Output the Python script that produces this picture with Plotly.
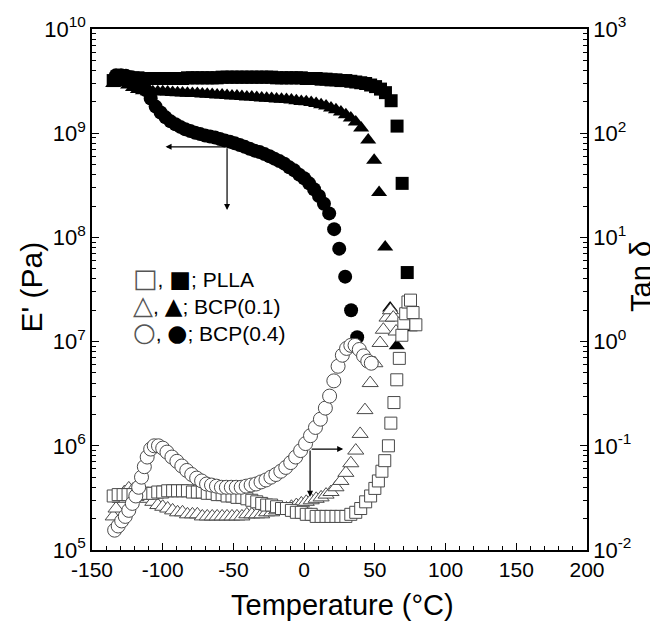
import math
import plotly.graph_objects as go

# ---------------- data ----------------
# Storage modulus E' (values in GPa, converted to Pa below)
pll_E_T = [-135, -131.5, -128, -124.5, -121, -117.5, -114, -110.5, -107, -103.5,
           -100, -96.5, -93, -89.5, -86, -82.5, -79, -75.5, -72, -68.5,
           -65, -61.5, -58, -54.5, -51, -47.5, -44, -40.5, -37, -33.5,
           -30, -26.5, -23, -19.5, -16, -12.5, -9, -5.5, -2, 1.5,
           5, 8.5, 12, 15.5, 19, 22.5, 26, 29.5, 33, 36.5,
           40, 43.5, 47, 50.5, 54, 57.5,
           61.5, 65.7, 69.3, 72.9, 75.5]
pll_E_GPa = [3.2, 3.4, 3.45, 3.45, 3.4, 3.4, 3.35, 3.35, 3.35, 3.35,
             3.35, 3.35, 3.35, 3.35, 3.35, 3.4, 3.4, 3.4, 3.4, 3.4,
             3.4, 3.4, 3.45, 3.45, 3.45, 3.45, 3.45, 3.45, 3.45, 3.45,
             3.45, 3.45, 3.45, 3.4, 3.4, 3.4, 3.4, 3.4, 3.4, 3.35,
             3.35, 3.35, 3.3, 3.3, 3.25, 3.25, 3.2, 3.2, 3.15, 3.1,
             3.05, 3.0, 2.9, 2.8, 2.65, 2.45,
             2.05, 1.17, 0.33, 0.046, 0.0145]

b01_E_T = [-135, -131.5, -128, -124.5, -121, -117.5, -114, -110.5, -107, -103.5,
           -100, -96.5, -93, -89.5, -86, -82.5, -79, -75.5, -72, -68.5,
           -65, -61.5, -58, -54.5, -51, -47.5, -44, -40.5, -37, -33.5,
           -30, -26.5, -23, -19.5, -16, -12.5, -9, -5.5, -2, 1.5,
           5, 8.5, 12, 15.5, 19, 22.5, 26, 29.5, 33, 36.5,
           40.3, 45.3, 49.5, 53, 57.3, 60.8, 65.5]
b01_E_GPa = [3.0, 3.1, 3.05, 2.9, 2.75, 2.62, 2.55, 2.5, 2.5, 2.5,
             2.5, 2.48, 2.46, 2.45, 2.43, 2.42, 2.4, 2.4, 2.38, 2.36,
             2.35, 2.33, 2.32, 2.3, 2.28, 2.27, 2.25, 2.23, 2.22, 2.2,
             2.18, 2.16, 2.15, 2.13, 2.12, 2.1, 2.08, 2.05, 2.02, 2.0,
             1.97, 1.93, 1.88, 1.82, 1.75, 1.68, 1.6, 1.5, 1.4, 1.28,
             1.12, 0.86, 0.55, 0.27, 0.081, 0.021, 0.0091]

b04_E_T = [-133, -129.5, -126, -122.5, -119, -115.5, -112, -108.5, -105, -101.5,
           -98, -94.5, -91, -87.5, -84, -80.5, -77, -73.5, -70, -66.5,
           -63, -59.5, -56, -52.5, -49, -45.5, -42, -38.5, -35, -31.5,
           -28, -24.5, -21, -17.5, -14, -10.5, -7, -3.5, 0, 3.5,
           7, 10.5, 14, 17.7, 21.2, 24.8, 29, 33.2, 37.5]
b04_E_GPa = [3.6, 3.6, 3.55, 3.45, 3.3, 3.0, 2.6, 2.15, 1.8, 1.58,
             1.42, 1.3, 1.22, 1.15, 1.09, 1.05, 1.01, 0.98, 0.95, 0.93,
             0.91, 0.88, 0.85, 0.83, 0.8, 0.77, 0.74, 0.71, 0.68, 0.66,
             0.63, 0.6, 0.57, 0.54, 0.51, 0.47, 0.44, 0.4, 0.37, 0.33,
             0.29, 0.25, 0.21, 0.17, 0.12, 0.078, 0.042, 0.020, 0.011]

# Loss tangent tan(delta)
pll_tan_T = [-135, -131.5, -128, -124.5, -121, -117.5, -114, -110.5, -107, -103.5,
             -100, -96.5, -93, -89.5, -86, -82.5, -79, -75.5, -72, -68.5,
             -65, -61.5, -58, -54.5, -51, -47.5, -44, -40.5, -37, -33.5,
             -30, -26.5, -23, -19.5, -16, -12.5, -9, -5.5, -2, 1.5,
             5, 8.5, 12, 15.5, 19, 22.5, 26, 29.5, 33, 36.5,
             40, 43.5,
             47, 50, 52.5, 55, 57, 59.6, 61.3, 63.5, 65.5, 67.3,
             69.1, 70.5, 71.8, 73.4, 75.2, 77, 79]
pll_tan = [0.033, 0.034, 0.034, 0.034, 0.034, 0.034, 0.035, 0.035, 0.035, 0.036,
           0.036, 0.037, 0.037, 0.037, 0.037, 0.037, 0.036, 0.036, 0.036, 0.035,
           0.035, 0.034, 0.034, 0.033, 0.033, 0.032, 0.032, 0.031, 0.030, 0.029,
           0.028, 0.027, 0.027, 0.026, 0.025, 0.025, 0.024, 0.023, 0.023, 0.022,
           0.022, 0.021, 0.021, 0.021, 0.021, 0.021, 0.021, 0.021, 0.022, 0.023,
           0.025, 0.029,
           0.033, 0.039, 0.046, 0.057, 0.072, 0.10, 0.165, 0.26, 0.43, 0.69,
           1.15, 1.5, 1.85, 2.4, 2.5, 1.9, 1.45]

b01_tan_T = [-135, -133, -130, -127, -124, -121,
             -117.5, -114, -110.5, -107, -103.5, -100, -96.5, -93, -89.5, -86,
             -82.5, -79, -75.5, -72, -68.5, -65, -61.5, -58, -54.5, -51,
             -47.5, -44, -40.5, -37, -33.5, -30, -26.5, -23, -19.5, -16,
             -12.5, -9, -5.5, -2, 1.5, 5, 8.5, 12, 15.5, 19,
             22.5, 26, 29.5, 33,
             36.5, 39.6, 43, 46.7, 50, 53.7, 56, 58.6, 61, 63, 65]
b01_tan = [0.021, 0.025, 0.031, 0.036, 0.039, 0.038,
           0.036, 0.033, 0.031, 0.029, 0.027, 0.026, 0.025, 0.024, 0.023, 0.023,
           0.022, 0.022, 0.022, 0.021, 0.021, 0.021, 0.021, 0.021, 0.021, 0.021,
           0.021, 0.021, 0.022, 0.022, 0.022, 0.022, 0.023, 0.023, 0.024, 0.025,
           0.025, 0.026, 0.027, 0.028, 0.029, 0.030, 0.031, 0.032, 0.034, 0.036,
           0.040, 0.046, 0.055, 0.068,
           0.09, 0.13, 0.22, 0.40, 0.62, 0.97, 1.3, 1.7, 2.0, 1.7, 1.25]

b04_tan_T = [-134, -131.5, -129, -126.5, -124, -121.5, -119, -117, -115, -113,
             -111, -108.5, -106, -103, -100, -97, -93.5, -90, -86.5, -83,
             -79.5, -76, -72.5, -69, -65.5, -62, -58.5, -55, -51.5, -48,
             -44.5, -41, -37.5, -34, -30.5, -27, -23.5, -20, -16.5, -13,
             -9.5, -6, -2.5, 1, 4.5, 8, 11.5, 15, 18, 21,
             24, 27, 30, 33, 36, 39, 42, 45, 47.5]
b04_tan = [0.0155, 0.017, 0.019, 0.021, 0.024, 0.028, 0.033, 0.040, 0.050, 0.063,
           0.078, 0.093, 0.100, 0.100, 0.095, 0.087, 0.078, 0.071, 0.064, 0.058,
           0.053, 0.049, 0.046, 0.043, 0.042, 0.041, 0.040, 0.040, 0.040, 0.040,
           0.040, 0.041, 0.042, 0.043, 0.045, 0.047, 0.050, 0.053, 0.057, 0.062,
           0.069, 0.078, 0.090, 0.105, 0.125, 0.15, 0.18, 0.23, 0.30, 0.42,
           0.58, 0.74, 0.86, 0.92, 0.92, 0.84, 0.73, 0.65, 0.62]

# tick labels
x_ticks = [-150, -100, -50, 0, 50, 100, 150, 200]
x_ticktext = ["-150", "-100", "-50", "0", "50", "100", "150", "200"]
yE_exp = [5, 6, 7, 8, 9, 10]
yT_exp = [-2, -1, 0, 1, 2, 3]

# arrow annotations (data units): [tail_T, tail_value, head_T, head_value]
arrows_E = [[-54.5, 7.4e8, -98.0, 7.4e8], [-54.5, 7.4e8, -54.5, 1.83e8]]
arrows_tan = [[4.2, 0.093, 27.6, 0.093], [4.2, 0.093, 4.2, 0.0325]]

legend_rows = [("□", "■", "PLLA"), ("△", "▲", "BCP(0.1)"), ("○", "●", "BCP(0.4)")]

# ---------------- figure ----------------
FONT = "Arial, Liberation Sans, sans-serif"
OPEN_LINE = "#4a4a4a"

GPa = 1e9
fig = go.Figure()


def filled(T, V, symbol, size, axis):
    fig.add_trace(go.Scatter(x=T, y=V, mode="markers", yaxis=axis, showlegend=False,
                             marker=dict(symbol=symbol, size=size, color="black",
                                         line=dict(width=0))))


def opened(T, V, symbol, size, axis):
    fig.add_trace(go.Scatter(x=T, y=V, mode="markers", yaxis=axis, showlegend=False,
                             marker=dict(symbol=symbol, size=size, color="white",
                                         line=dict(color=OPEN_LINE, width=1))))


filled(pll_E_T, [v * GPa for v in pll_E_GPa], "square", 13, "y")
opened(b01_tan_T, b01_tan, "triangle-up", 14, "y2")
opened(pll_tan_T, pll_tan, "square", 12, "y2")
opened(b04_tan_T, b04_tan, "circle", 14, "y2")
filled(b01_E_T, [v * GPa for v in b01_E_GPa], "triangle-up", 14, "y")
filled(b04_E_T, [v * GPa for v in b04_E_GPa], "circle", 14, "y")

axis_common = dict(showgrid=False, zeroline=False, showline=True, linecolor="black",
                   linewidth=1.5, ticks="inside", ticklen=7, tickwidth=1.2,
                   tickcolor="black", automargin=False)

minor_E = [k * 10 ** n for n in range(5, 10) for k in range(2, 10)]
minor_T = [k * 10.0 ** n for n in range(-2, 3) for k in range(2, 10)]

fig.update_layout(
    width=650, height=613,
    margin=dict(l=84, r=71, t=21, b=71),
    paper_bgcolor="white", plot_bgcolor="white",
    font=dict(family=FONT, color="black"),
    showlegend=False,
    xaxis=dict(range=[-150, 200], tickmode="array", tickvals=x_ticks, ticktext=x_ticktext,
               mirror=True, tickfont=dict(family=FONT, size=21, color="black"),
               minor=dict(tickmode="linear", tick0=-150, dtick=10, ticks="inside",
                          ticklen=4, tickwidth=1, tickcolor="black"),
               **axis_common),
    yaxis=dict(type="log", range=[5, 10], tickmode="array",
               tickvals=[10 ** e for e in yE_exp],
               ticktext=["10<sup>%d</sup>" % e for e in yE_exp],
               tickfont=dict(family=FONT, size=22, color="black"),
               minor=dict(tickmode="array", tickvals=minor_E, ticks="inside",
                          ticklen=4, tickwidth=1, tickcolor="black"),
               **axis_common),
    yaxis2=dict(type="log", range=[-2, 3], overlaying="y", side="right", tickmode="array",
                tickvals=[10.0 ** e for e in yT_exp],
                ticktext=["10<sup>%d</sup>" % e for e in yT_exp],
                tickfont=dict(family=FONT, size=22, color="black"),
                minor=dict(tickmode="array", tickvals=minor_T, ticks="inside",
                           ticklen=4, tickwidth=1, tickcolor="black"),
                **axis_common),
)

annotations = []
for tx, tv, hx, hv in arrows_E:
    annotations.append(dict(x=hx, y=math.log10(hv), ax=tx, ay=math.log10(tv),
                            xref="x", yref="y", axref="x", ayref="y", text="",
                            showarrow=True, arrowhead=2, arrowsize=1, arrowwidth=1.2,
                            arrowcolor="black", standoff=0, startstandoff=0))
for tx, tv, hx, hv in arrows_tan:
    annotations.append(dict(x=hx, y=math.log10(hv), ax=tx, ay=math.log10(tv),
                            xref="x", yref="y2", axref="x", ayref="y2", text="",
                            showarrow=True, arrowhead=2, arrowsize=1, arrowwidth=1.2,
                            arrowcolor="black", standoff=0, startstandoff=0))

# axis titles
annotations.append(dict(text="Temperature (°C)", xref="paper", yref="paper", x=0.507, y=-0.105,
                        showarrow=False, font=dict(family=FONT, size=29), xanchor="center",
                        yanchor="middle"))
annotations.append(dict(text="E' (Pa)", xref="paper", yref="paper", x=-0.122, y=0.505,
                        showarrow=False, font=dict(family=FONT, size=30), textangle=-90,
                        xanchor="center", yanchor="middle"))
annotations.append(dict(text="Tan δ", xref="paper", yref="paper", x=1.11, y=0.525,
                        showarrow=False, font=dict(family=FONT, size=29), textangle=-90,
                        xanchor="center", yanchor="middle"))

# legend rows
legend_y = [0.523, 0.471, 0.419]
SYM = "font-family:'DejaVu Sans';"
for (o, f, name), ly in zip(legend_rows, legend_y):
    txt = ('<span style="%scolor:#555555;font-size:26px">%s</span>, '
           '<span style="%sfont-size:23px">%s</span>; %s' % (SYM, o, SYM, f, name))
    annotations.append(dict(text=txt, xref="paper", yref="paper", x=0.079, y=ly,
                            showarrow=False, font=dict(family=FONT, size=21),
                            xanchor="left", yanchor="middle"))

fig.update_layout(annotations=annotations)

fig.write_html("out.html")
